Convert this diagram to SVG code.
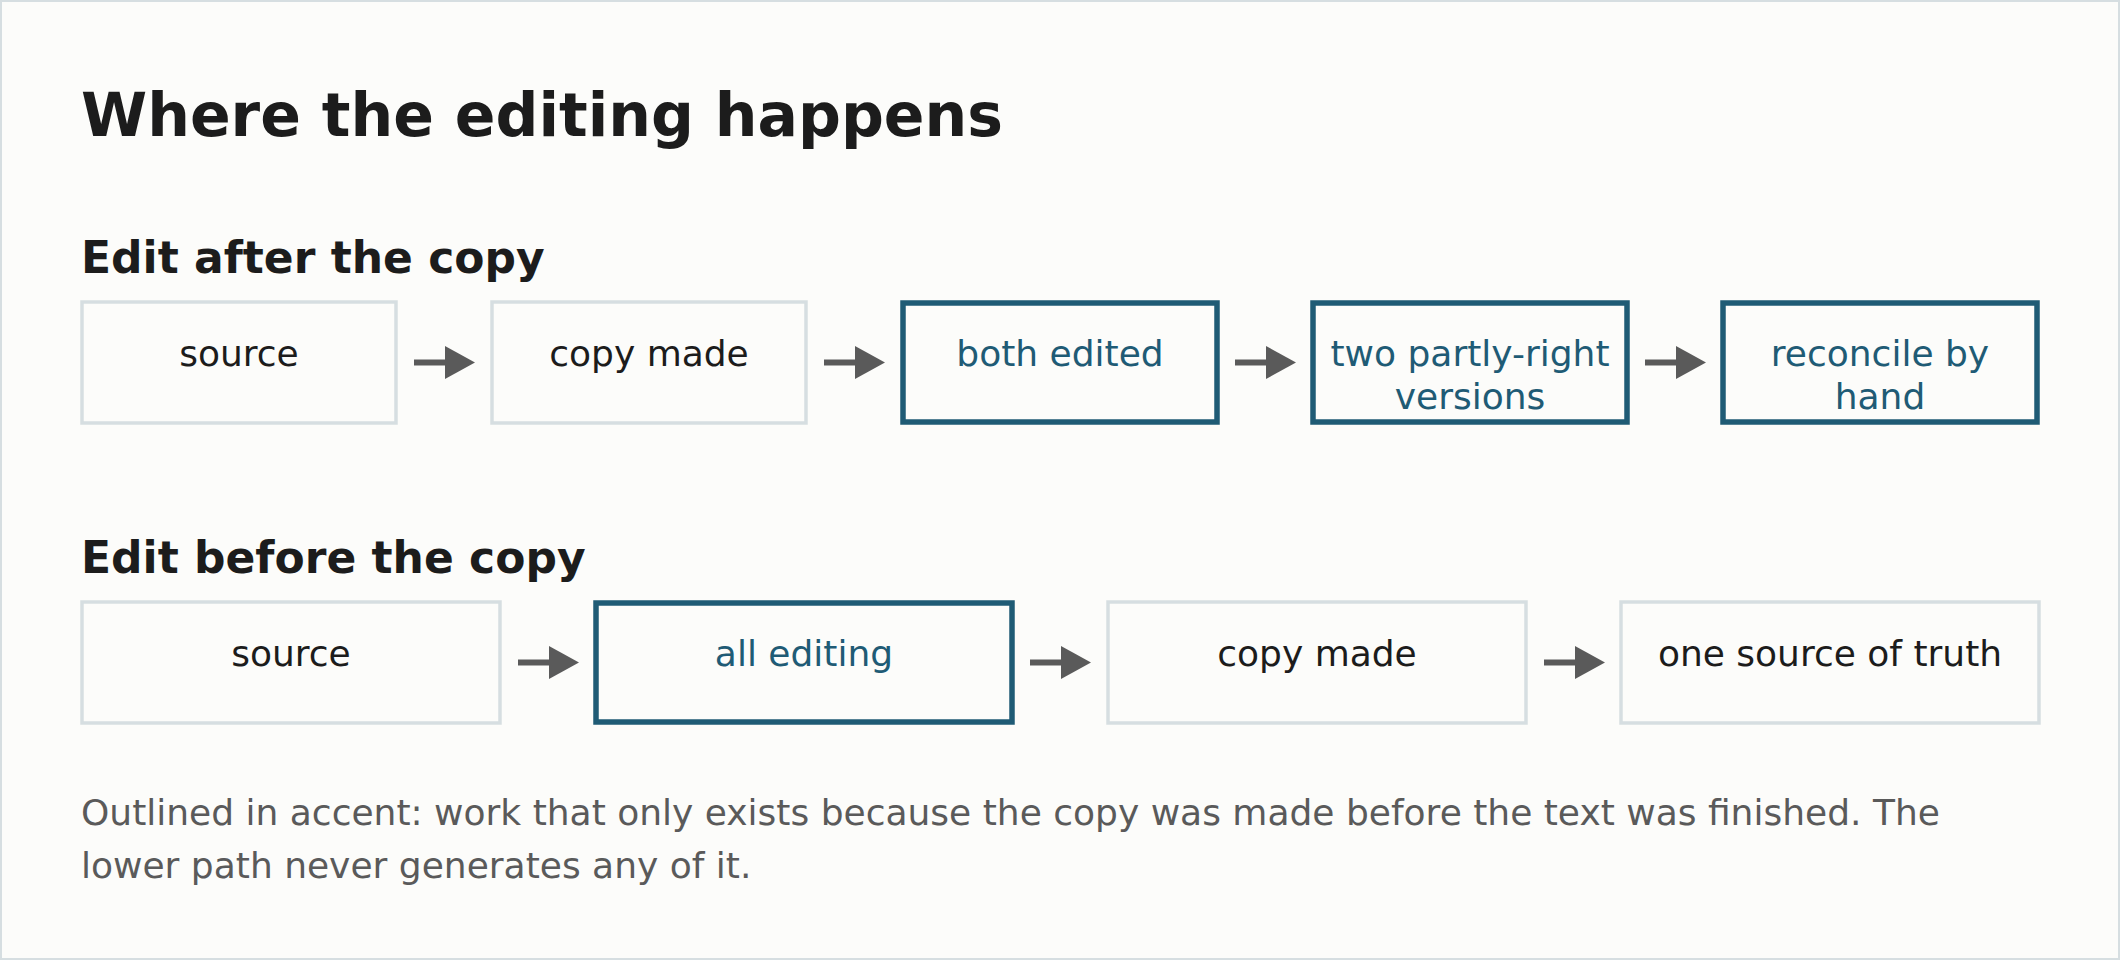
<svg xmlns="http://www.w3.org/2000/svg" width="2120" height="960" viewBox="0 0 2120 960">
<style>
.bg{fill:#fcfcfa;stroke:#d6dee1;stroke-width:2}
.title{font-family:"DejaVu Sans",sans-serif;font-weight:bold;font-size:60px;fill:#1c1c1c}
.sec{font-family:"DejaVu Sans",sans-serif;font-weight:bold;font-size:44px;fill:#1c1c1c}
.box{fill:#fcfcfa;stroke:#d6dee1;stroke-width:3.5}
.acc{fill:#fcfcfa;stroke:#1f5b75;stroke-width:5.5}
.lbl{font-family:"DejaVu Sans",sans-serif;font-size:36px;fill:#1c1c1c;text-anchor:middle}
.lbla{font-family:"DejaVu Sans",sans-serif;font-size:36px;fill:#1f5b75;text-anchor:middle}
.cap{font-family:"DejaVu Sans",sans-serif;font-size:36px;fill:#5a5a5a}
.conn line{stroke:#5a5a5a;stroke-width:6}
</style>
<defs>
<marker id="ah" markerWidth="5" markerHeight="5.5" refX="0" refY="2.75" orient="auto" markerUnits="strokeWidth">
<path d="M0,0 L5,2.75 L0,5.5 Z" fill="#5a5a5a"/>
</marker>
</defs>
<rect class="bg" x="1" y="1" width="2118" height="958"/>
<text class="title" x="81" y="136">Where the editing happens</text>
<text class="sec" x="81" y="273">Edit after the copy</text>
<text class="sec" x="81" y="573">Edit before the copy</text>

<g id="a1"><rect class="box" x="82" y="302" width="314" height="121"/><text class="lbl" x="239" y="366">source</text></g>
<g id="a2"><rect class="box" x="492" y="302" width="314" height="121"/><text class="lbl" x="649" y="366">copy made</text></g>
<g id="a3"><rect class="acc" x="903" y="303" width="314" height="119"/><text class="lbla" x="1060" y="366">both edited</text></g>
<g id="a4"><rect class="acc" x="1313" y="303" width="314" height="119"/><text class="lbla" x="1470" y="366">two partly-right</text><text class="lbla" x="1470" y="409">versions</text></g>
<g id="a5"><rect class="acc" x="1723" y="303" width="314" height="119"/><text class="lbla" x="1880" y="366">reconcile by</text><text class="lbla" x="1880" y="409">hand</text></g>

<g id="b1"><rect class="box" x="82" y="602" width="418" height="121"/><text class="lbl" x="291" y="666">source</text></g>
<g id="b2"><rect class="acc" x="596" y="603" width="416" height="119"/><text class="lbla" x="804" y="666">all editing</text></g>
<g id="b3"><rect class="box" x="1108" y="602" width="418" height="121"/><text class="lbl" x="1317" y="666">copy made</text></g>
<g id="b4"><rect class="box" x="1621" y="602" width="418" height="121"/><text class="lbl" x="1830" y="666">one source of truth</text></g>

<g class="conn">
<line x1="414" y1="362.5" x2="445" y2="362.5" marker-end="url(#ah)"/>
<line x1="824" y1="362.5" x2="855" y2="362.5" marker-end="url(#ah)"/>
<line x1="1235" y1="362.5" x2="1266" y2="362.5" marker-end="url(#ah)"/>
<line x1="1645" y1="362.5" x2="1676" y2="362.5" marker-end="url(#ah)"/>
<line x1="518" y1="662.5" x2="549" y2="662.5" marker-end="url(#ah)"/>
<line x1="1030" y1="662.5" x2="1061" y2="662.5" marker-end="url(#ah)"/>
<line x1="1544" y1="662.5" x2="1575" y2="662.5" marker-end="url(#ah)"/>
</g>

<text class="cap" x="81" y="825">Outlined in accent: work that only exists because the copy was made before the text was finished. The</text>
<text class="cap" x="81" y="878">lower path never generates any of it.</text>
</svg>
